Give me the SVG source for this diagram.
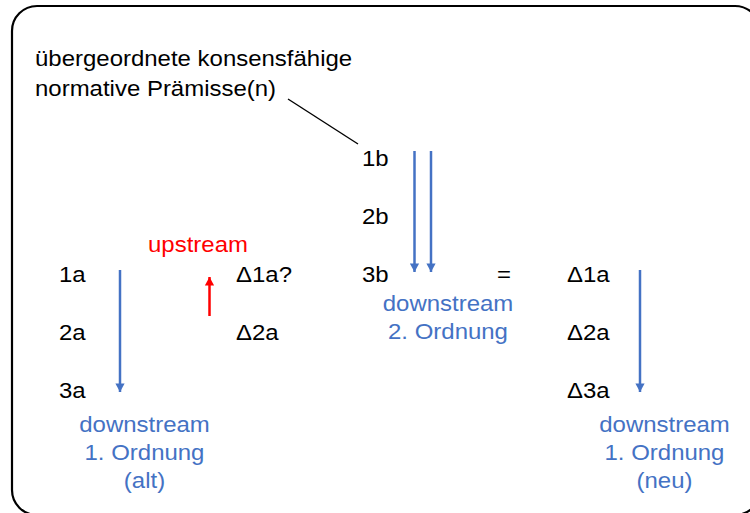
<svg xmlns="http://www.w3.org/2000/svg" width="750" height="513" viewBox="0 0 750 513">
<style>
text{font-family:"Liberation Sans",Arial,sans-serif;font-size:22px;fill:#000}
.blue{fill:#4472C4}
.red{fill:#FF0000}
.mid{text-anchor:middle}
.bl{stroke:#4472C4;stroke-width:2.5;fill:none}
.rd{stroke:#FF0000;stroke-width:2.5;fill:none}
</style>
<defs>
<marker id="ab" markerUnits="userSpaceOnUse" markerWidth="10" markerHeight="10" viewBox="0 0 9 10" refX="8.5" refY="5" orient="auto"><path d="M0,0.4 L8.5,5 L0,9.6 z" fill="#4472C4"/></marker>
<marker id="ar" markerUnits="userSpaceOnUse" markerWidth="10" markerHeight="10" viewBox="0 0 9 10" refX="8.5" refY="5" orient="auto"><path d="M0,0.4 L8.5,5 L0,9.6 z" fill="#FF0000"/></marker>
</defs>
<rect x="12" y="6" width="748" height="509" rx="25" ry="25" fill="#fff" stroke="#000" stroke-width="2.2"/>
<g id="connectors">
<line x1="288" y1="99" x2="358" y2="144" stroke="#000" stroke-width="1.4"/>
<line class="bl" x1="414.5" y1="151" x2="414.5" y2="272" marker-end="url(#ab)"/>
<line class="bl" x1="431" y1="151" x2="431" y2="272" marker-end="url(#ab)"/>
<line class="bl" x1="120" y1="270" x2="120" y2="392" marker-end="url(#ab)"/>
<line class="bl" x1="640" y1="270" x2="640" y2="392" marker-end="url(#ab)"/>
<line class="rd" x1="209.5" y1="316" x2="209.5" y2="277" marker-end="url(#ar)"/>
</g>
<g id="premise">
<text transform="translate(35,66) scale(1.09,1)">übergeordnete konsensfähige</text>
<text transform="translate(35,96) scale(1.09,1)">normative Prämisse(n)</text>
</g>
<g id="n1b"><text transform="translate(362,166) scale(1.09,1)">1b</text></g>
<g id="n2b"><text transform="translate(362,224) scale(1.09,1)">2b</text></g>
<g id="n3b"><text transform="translate(362,282) scale(1.09,1)">3b</text></g>
<g id="eq"><text transform="translate(497,282) scale(1.09,1)">=</text></g>
<g id="ds2"><text class="blue mid" transform="translate(448,311) scale(1.09,1)">downstream</text><text class="blue mid" transform="translate(448,339) scale(1.09,1)">2. Ordnung</text></g>
<g id="n1a"><text transform="translate(59,282) scale(1.09,1)">1a</text></g>
<g id="n2a"><text transform="translate(59,340) scale(1.09,1)">2a</text></g>
<g id="n3a"><text transform="translate(59,398) scale(1.09,1)">3a</text></g>
<g id="ds1alt"><text class="blue mid" transform="translate(144.5,432) scale(1.09,1)">downstream</text><text class="blue mid" transform="translate(144.5,460) scale(1.09,1)">1. Ordnung</text><text class="blue mid" transform="translate(144.5,488) scale(1.09,1)">(alt)</text></g>
<g id="upstream"><text class="red mid" transform="translate(198,252) scale(1.09,1)">upstream</text></g>
<g id="d1aq"><text transform="translate(236,282) scale(1.09,1)">Δ1a?</text></g>
<g id="d2a"><text transform="translate(236,340) scale(1.09,1)">Δ2a</text></g>
<g id="nd1a"><text transform="translate(567,282) scale(1.09,1)">Δ1a</text></g>
<g id="nd2a"><text transform="translate(567,340) scale(1.09,1)">Δ2a</text></g>
<g id="nd3a"><text transform="translate(567,398) scale(1.09,1)">Δ3a</text></g>
<g id="ds1neu"><text class="blue mid" transform="translate(664.5,432) scale(1.09,1)">downstream</text><text class="blue mid" transform="translate(664.5,460) scale(1.09,1)">1. Ordnung</text><text class="blue mid" transform="translate(664.5,488) scale(1.09,1)">(neu)</text></g>
</svg>
